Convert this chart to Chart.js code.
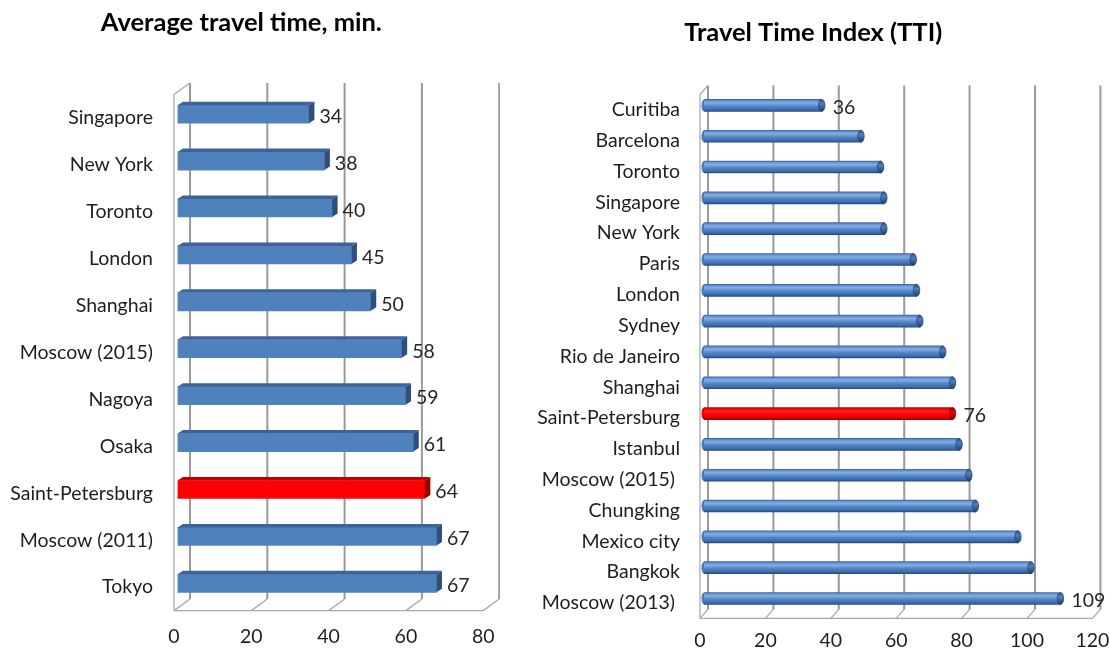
<!DOCTYPE html>
<html><head><meta charset="utf-8">
<script src="https://cdn.jsdelivr.net/npm/chart.js@4/dist/chart.umd.min.js"></script>
<style>
html,body{margin:0;padding:0;background:#fff;width:1110px;height:652px;overflow:hidden;}
#c1{position:absolute;left:-4px;top:0;}
#c2{position:absolute;left:530px;top:0;}
</style></head><body>
<canvas id="c1" width="504" height="652"></canvas>
<canvas id="c2" width="580" height="652"></canvas>
<script>
// ---- data ----
const travelCities = ['Singapore','New York','Toronto','London','Shanghai','Moscow (2015)','Nagoya','Osaka','Saint-Petersburg','Moscow (2011)','Tokyo'];
const travelMinutes = [34,38,40,45,50,58,59,61,64,67,67];
const travelTicks = [0,20,40,60,80];

const ttiCities = ['Curitiba','Barcelona','Toronto','Singapore','New York','Paris','London','Sydney','Rio de Janeiro','Shanghai','Saint-Petersburg','Istanbul','Moscow (2015) ','Chungking','Mexico city','Bangkok','Moscow (2013) '];
const ttiValues = [36,48,54,55,55,64,65,66,73,76,76,78,81,83,96,100,109];
const ttiTicks = [0,20,40,60,80,100,120];
const ttiLabelled = ['Curitiba','Saint-Petersburg','Moscow (2013) '];

const highlightCity = 'Saint-Petersburg';
const titleLeft = 'Average travel time, min.';
const titleRight = 'Travel Time Index (TTI)';

const LABEL_FONT = '19.5px Lato';
Chart.defaults.font.family = 'Lato';

function line(ctx,x1,y1,x2,y2){ctx.beginPath();ctx.moveTo(x1,y1);ctx.lineTo(x2,y2);ctx.stroke();}
function poly(ctx,pts){ctx.beginPath();ctx.moveTo(pts[0][0],pts[0][1]);for(let i=1;i<pts.length;i++)ctx.lineTo(pts[i][0],pts[i][1]);ctx.closePath();ctx.fill();}

// frame (walls, back grid, axis labels) drawn from the chart's scales
function framePlugin(o){
  return {
    id:'frame3d',
    beforeDatasetsDraw(chart){
      const ctx=chart.ctx, a=chart.chartArea, xs=chart.scales.x, ys=chart.scales.y;
      const F=o.front, B=o.back, t=o.ticks;
      ctx.save();
      ctx.strokeStyle=o.gridColor; ctx.lineWidth=o.gridWidth;
      t.forEach(v=>{const x=xs.getPixelForValue(v)+B.dx; line(ctx,x,a.top+B.dy,x,a.bottom+B.dy);});
      ctx.strokeStyle=o.wallColor; ctx.lineWidth=1.3;
      const p0=xs.getPixelForValue(t[0]), pe=xs.getPixelForValue(t[t.length-1]);
      line(ctx,p0+F.dx,a.top+F.dy,p0+F.dx,a.bottom+F.dy);
      line(ctx,p0+F.dx,a.top+F.dy,p0+B.dx,a.top+B.dy);
      line(ctx,p0+F.dx,a.bottom+F.dy,pe+F.dx,a.bottom+F.dy);
      t.forEach(v=>{const p=xs.getPixelForValue(v); line(ctx,p+F.dx,a.bottom+F.dy,p+B.dx,a.bottom+B.dy);});
      ctx.fillStyle='#1e1e1e'; ctx.font=LABEL_FONT;
      ctx.textAlign='right'; ctx.textBaseline='middle';
      chart.data.labels.forEach((l,i)=>ctx.fillText(l,p0+F.dx-o.labelPad,ys.getPixelForValue(i)+F.dy));
      ctx.textAlign='center';
      t.forEach(v=>ctx.fillText(String(v),xs.getPixelForValue(v)+F.dx,a.bottom+F.dy+o.tickOffset));
      ctx.restore();
    }
  };
}

// left: box bars (top & side faces + value labels)
const boxPlugin = {
  id:'box3d',
  afterDatasetsDraw(chart){
    const ctx=chart.ctx, meta=chart.getDatasetMeta(0), dx=5.5, dy=-3.5;
    ctx.save();
    meta.data.forEach((bar,i)=>{
      const {x,y,base,height}=bar.getProps(['x','y','base','height'],true);
      const t=y-height/2, b=y+height/2;
      const red=chart.data.labels[i]===highlightCity;
      ctx.fillStyle=red?'#c00000':'#3c649a';
      poly(ctx,[[base,t],[x,t],[x+dx,t+dy],[base+dx,t+dy]]);
      ctx.fillStyle=red?'#990000':'#2d4f7e';
      poly(ctx,[[x,t],[x+dx,t+dy],[x+dx,b+dy],[x,b]]);
      ctx.fillStyle='#262626'; ctx.font=LABEL_FONT; ctx.textAlign='left'; ctx.textBaseline='middle';
      ctx.fillText(String(chart.data.datasets[0].data[i]),x+dx+5,y+2.5);
    });
    ctx.restore();
  }
};

// right: cylinder caps + selected value labels
const cylPlugin = {
  id:'cyl3d',
  afterDatasetsDraw(chart){
    const ctx=chart.ctx, meta=chart.getDatasetMeta(0);
    ctx.save();
    meta.data.forEach((bar,i)=>{
      const {x,y,base,height}=bar.getProps(['x','y','base','height'],true);
      const red=chart.data.labels[i]===highlightCity;
      const g=ctx.createLinearGradient(0,y-height/2,0,y+height/2);
      if(red){g.addColorStop(0,'#b00000');g.addColorStop(0.4,'#e00000');g.addColorStop(1,'#8a0000');}
      else{g.addColorStop(0,'#2c5284');g.addColorStop(0.35,'#4f7fba');g.addColorStop(1,'#1f3d66');}
      ctx.fillStyle=red?'#e80000':'#4a7bb8';
      ctx.beginPath();ctx.ellipse(base,y,2.5,height/2,0,Math.PI/2,Math.PI*1.5);ctx.fill();
      ctx.fillStyle=g;
      ctx.beginPath();ctx.ellipse(x,y,3.2,height/2,0,0,Math.PI*2);ctx.fill();
      ctx.strokeStyle=red?'#900000':'#25467a';ctx.lineWidth=0.8;ctx.stroke();
      if(ttiLabelled.includes(chart.data.labels[i])){
        ctx.fillStyle='#262626'; ctx.font=LABEL_FONT; ctx.textAlign='left'; ctx.textBaseline='middle';
        ctx.fillText(String(chart.data.datasets[0].data[i]),x+11,y+2.5);
      }
    });
    ctx.restore();
  }
};

function cylFill(c){
  const chart=c.chart, ys=chart.scales&&chart.scales.y;
  const red=chart.data.labels[c.dataIndex]===highlightCity;
  if(!chart.chartArea||!ys) return red?'#ff0000':'#4f81bd';
  const yc=ys.getPixelForValue(c.dataIndex), h=12;
  const g=chart.ctx.createLinearGradient(0,yc-h/2,0,yc+h/2);
  if(red){g.addColorStop(0,'#c00000');g.addColorStop(0.12,'#f00000');g.addColorStop(0.3,'#ff2020');g.addColorStop(0.6,'#ff0000');g.addColorStop(0.85,'#e00000');g.addColorStop(1,'#a00000');}
  else{g.addColorStop(0,'#3a66a0');g.addColorStop(0.12,'#6796d3');g.addColorStop(0.3,'#84ade2');g.addColorStop(0.55,'#5587c8');g.addColorStop(0.85,'#3b6cab');g.addColorStop(1,'#264a80');}
  return g;
}

new Chart(document.getElementById('c1'),{
  type:'bar',
  data:{labels:travelCities,datasets:[{data:travelMinutes,
    backgroundColor:travelCities.map(c=>c===highlightCity?'#ff0000':'#4f81bd'),
    barThickness:18,borderWidth:0}]},
  options:{
    indexAxis:'y',responsive:false,animation:false,devicePixelRatio:1,
    layout:{padding:{left:0,right:13.3,top:0,bottom:0}},
    plugins:{legend:{display:false},tooltip:{enabled:false},
      title:{display:true,text:titleLeft,color:'#000',font:{family:'Lato',size:25.5,weight:'bold'},padding:{top:7.7,bottom:52.45}}},
    scales:{
      x:{min:0,max:80,ticks:{display:false,stepSize:20},grid:{display:false},border:{display:false},afterFit:s=>{s.height=45.2;}},
      y:{ticks:{display:false},grid:{display:false},border:{display:false},afterFit:s=>{s.width=181.5;}}
    }
  },
  plugins:[framePlugin({front:{dx:-3.5,dy:3.8},back:{dx:12.5,dy:-7.75},ticks:travelTicks,gridColor:'#9a9a9a',gridWidth:2,wallColor:'#a8a8a8',labelPad:21,tickOffset:26}),boxPlugin]
});

new Chart(document.getElementById('c2'),{
  type:'bar',
  data:{labels:ttiCities,datasets:[{data:ttiValues,backgroundColor:cylFill,barThickness:12,borderWidth:0}]},
  options:{
    indexAxis:'y',responsive:false,animation:false,devicePixelRatio:1,
    layout:{padding:{left:0,right:13.6,top:0,bottom:0}},
    plugins:{legend:{display:false},tooltip:{enabled:false},
      title:{display:true,text:titleRight,color:'#000',font:{family:'Lato',size:25.5,weight:'bold'},padding:{top:17.7,bottom:41.7}}},
    scales:{
      x:{min:0,max:120,ticks:{display:false,stepSize:20},grid:{display:false},border:{display:false},afterFit:s=>{s.height=38.1;}},
      y:{ticks:{display:false},grid:{display:false},border:{display:false},afterFit:s=>{s.width=174;}}
    }
  },
  plugins:[framePlugin({front:{dx:-4,dy:4.5},back:{dx:4,dy:-4.5},ticks:ttiTicks,gridColor:'#9a9a9a',gridWidth:2,wallColor:'#a8a8a8',labelPad:20,tickOffset:22}),cylPlugin]
});
</script>
</body></html>
